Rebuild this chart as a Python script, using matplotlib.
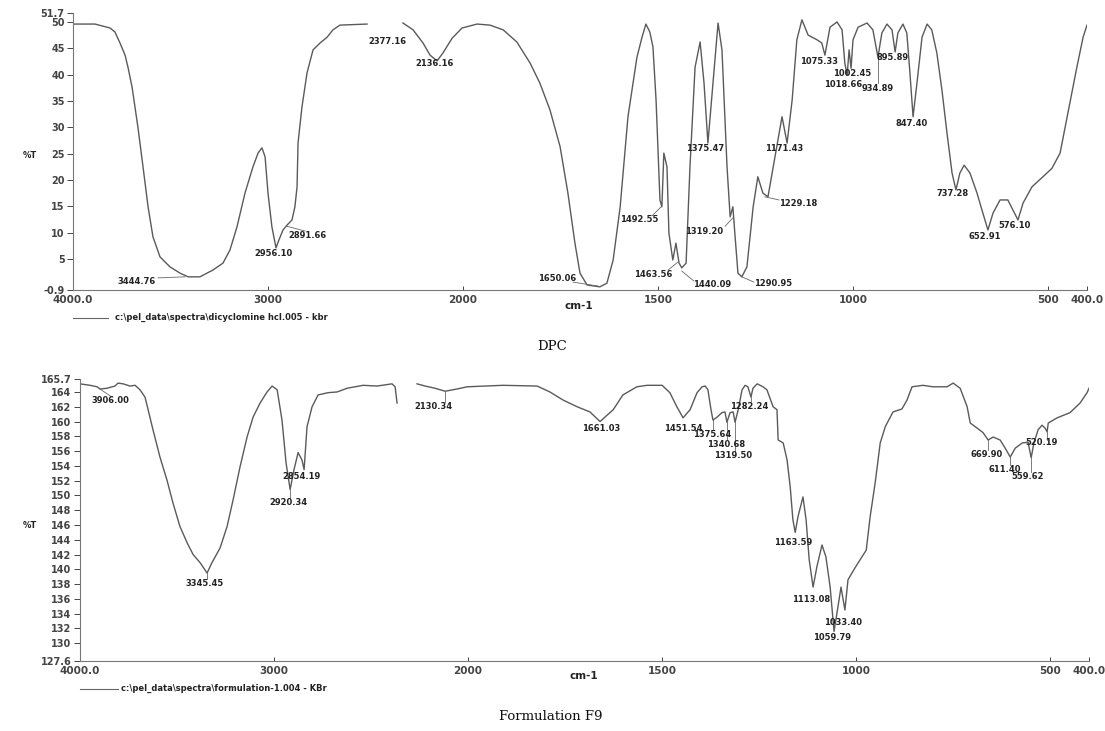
import numpy as np
import matplotlib
matplotlib.use('Agg')
import matplotlib.pyplot as plt

# ---------------- DPC spectrum (top) ----------------
dpc_wn_a = [4000, 3887, 3810, 3785, 3759, 3733, 3718, 3697, 3682, 3667,
            3641, 3615, 3590, 3554, 3503, 3451, 3410, 3349, 3282, 3231,
            3195, 3159, 3118, 3077, 3051, 3031, 3015, 3000, 2980, 2959,
            2944, 2923, 2903, 2877, 2862, 2851, 2846, 2826, 2800, 2769,
            2733, 2697, 2667, 2631, 2492]
dpc_t_a = [49.6, 49.6, 48.85, 48.1, 46, 43.7, 41.4, 37.6, 33.8, 30,
           22.5, 14.9, 9.2, 5.4, 3.5, 2.3, 1.6, 1.6, 2.9, 4.2,
           6.7, 11.1, 17.5, 22.5, 25.1, 26.1, 24.4, 17.5, 11.1, 7.1,
           8.6, 10.5, 11.4, 12.4, 14.9, 18.7, 27, 33.8, 40.3, 44.7,
           46, 47.1, 48.5, 49.4, 49.6]
dpc_wn_b = [2308, 2256, 2205, 2169, 2133, 2103, 2056, 2005, 1964, 1931,
            1897, 1862, 1828, 1803, 1777, 1751, 1731, 1713, 1700, 1682,
            1649, 1631, 1615, 1597, 1577, 1554, 1541, 1531, 1521, 1513,
            1505, 1495, 1490, 1485, 1477, 1472, 1462, 1454, 1446, 1439,
            1428, 1418, 1405, 1392, 1382, 1372, 1359, 1346, 1336, 1323,
            1315, 1308, 1303, 1295, 1285, 1272, 1256, 1244, 1231, 1218,
            1200, 1182, 1169, 1156, 1144, 1131, 1115, 1092, 1080, 1072,
            1059, 1041, 1028, 1021, 1015, 1010, 1005, 1000, 987, 964,
            949, 936, 926, 913, 900, 892, 885, 872, 862, 854,
            846, 836, 823, 810, 798, 785, 772, 759, 746, 736,
            726, 715, 700, 682, 667, 654, 641, 623, 603, 590,
            577, 564, 541, 513, 490, 469, 449, 426, 410, 400]
dpc_t_b = [49.8, 48.5, 46, 43.7, 42.6, 44.1, 46.9, 48.85, 49.6, 49.4,
           48.5, 46.2, 42.2, 38.4, 33.3, 26.3, 17.5, 8, 2.3, 0.05,
           -0.3, 0.4, 4.8, 14.9, 32, 43.3, 47.1, 49.6, 48.1, 45.3,
           35.2, 16.2, 14.9, 25.1, 22.5, 9.9, 4.8, 8, 4.2, 3.3,
           4.2, 22.5, 41.4, 46.2, 38.4, 27, 38.4, 49.8, 44.7, 22.5,
           13, 14.9, 9.9, 2.3, 1.6, 3.5, 14.9, 20.6, 17.5, 16.8,
           24.4, 32, 27, 35.2, 46.6, 50.4, 47.5, 46.6, 46, 43.7,
           49, 50, 48.5, 42.2, 39.9, 44.7, 41.2, 46.6, 49, 49.8,
           48.5, 43.3, 47.9, 49.6, 48.5, 44.3, 47.9, 49.6, 47.9, 40.3,
           32, 38.4, 47.1, 49.6, 48.5, 44.1, 37.1, 28.9, 21.3, 18.1,
           21.3, 22.8, 21.3, 17.5, 13.7, 10.5, 13.7, 16.2, 16.2, 14.3,
           12.4, 15.6, 18.7, 20.6, 22.2, 25.1, 32.7, 41.4, 47.1, 49.4]

# ---------------- Formulation F9 spectrum (bottom) ----------------
f9_wn_a = [4000, 3948, 3912, 3897, 3861, 3820, 3804, 3778, 3742, 3716,
           3691, 3665, 3649, 3624, 3588, 3552, 3521, 3485, 3448, 3417,
           3381, 3345, 3320, 3278, 3242, 3211, 3175, 3139, 3108, 3072,
           3036, 3010, 2984, 2959, 2938, 2917, 2897, 2876, 2856, 2845,
           2830, 2804, 2773, 2722, 2675, 2624, 2541, 2469, 2392, 2376,
           2366]
f9_t_a = [165.1, 164.9, 164.7, 164.4, 164.5, 164.8, 165.2, 165.1, 164.8, 164.9,
          164.3, 163.3, 161.6, 158.9, 155.2, 152.1, 149, 145.8, 143.6, 142,
          140.9, 139.5, 140.9, 142.9, 145.8, 149.4, 153.9, 157.9, 160.6, 162.5,
          164, 164.8, 164.3, 160.2, 154.4, 150.8, 153.5, 155.8, 154.8, 153.5,
          159.3, 162, 163.6, 163.9, 164, 164.5, 164.9, 164.8, 165.1, 164.7,
          162.5]
f9_wn_b = [2263, 2221, 2170, 2118, 2057, 2005, 1910, 1822, 1789, 1755,
           1719, 1686, 1660, 1626, 1601, 1565, 1539, 1500, 1480, 1462,
           1446, 1428, 1410, 1397, 1389, 1382, 1374, 1369, 1358, 1346,
           1338, 1333, 1325, 1317, 1312, 1304, 1294, 1286, 1279, 1271,
           1266, 1255, 1240, 1230, 1214, 1204, 1201, 1188, 1178, 1170,
           1163, 1157, 1150, 1137, 1129, 1121, 1111, 1101, 1088, 1078,
           1067, 1057, 1047, 1039, 1029, 1021, 1003, 985, 974, 964,
           951, 938, 925, 905, 882, 869, 856, 828, 802, 766,
           750, 732, 714, 706, 688, 673, 660, 647, 629, 616,
           603, 590, 572, 557, 549, 542, 531, 521, 513, 508,
           505, 482, 449, 423, 405, 400]
f9_t_b = [165.1, 164.8, 164.5, 164.1, 164.4, 164.7, 164.9, 164.8, 164, 162.9,
          162, 161.3, 160.0, 161.6, 163.6, 164.7, 164.9, 164.9, 163.9, 162,
          160.5, 161.6, 163.9, 164.7, 164.8, 164.3, 161.6, 160.2, 160.6, 161.2,
          161.3, 159.9, 161.2, 161.3, 159.9, 161.6, 164.3, 164.9, 164.7, 163.3,
          164.5, 165.1, 164.7, 164.3, 162, 161.6, 157.5, 157.1, 154.8, 151.2,
          146.7, 145, 147.1, 149.8, 146.7, 141.3, 137.6, 140.4, 143.3, 141.7,
          137.6, 131.6, 134.9, 137.6, 134.5, 138.6, 140.2, 141.7, 142.6, 147.1,
          151.7, 157.1, 159.3, 161.3, 161.7, 162.9, 164.7, 164.9, 164.7, 164.7,
          165.2, 164.5, 162, 159.8, 159.1, 158.5, 157.5, 157.9, 157.5, 156.4,
          155.2, 156.4, 157.1, 157.2, 155.1, 157.1, 158.9, 159.5, 159.1, 158.6,
          159.8, 160.5, 161.2, 162.5, 163.9, 164.5]

# ---------------- axis ticks ----------------
x_ticks = [4000, 3000, 2000, 1500, 1000, 500, 400]
x_labels = ['4000.0', '3000', '2000', '1500', '1000', '500', '400.0']
dpc_yticks = [-0.9, 5, 10, 15, 20, 25, 30, 35, 40, 45, 50, 51.7]
dpc_ylabels = ['-0.9', '5', '10', '15', '20', '25', '30', '35', '40', '45', '50', '51.7']
f9_yticks = [127.6, 130, 132, 134, 136, 138, 140, 142, 144, 146, 148, 150,
             152, 154, 156, 158, 160, 162, 164, 165.7]
f9_ylabels = ['127.6', '130', '132', '134', '136', '138', '140', '142', '144', '146',
              '148', '150', '152', '154', '156', '158', '160', '162', '164', '165.7']

# ---------------- peak labels: (text, wavenumber, %T) ----------------
dpc_peaks = [("3444.76", 3672, 0.8), ("2956.10", 2974, 6.1), ("2891.66", 2795, 9.5),
             ("2377.16", 2390, 46.2), ("2136.16", 2144, 42.2), ("1650.06", 1759, 1.2),
             ("1492.55", 1549, 12.4), ("1463.56", 1513, 2.1), ("1440.09", 1362, 0.05),
             ("1375.47", 1380, 25.9), ("1319.20", 1382, 10.3), ("1290.95", 1205, 0.24),
             ("1229.18", 1141, 15.6), ("1171.43", 1177, 25.9), ("1075.33", 1087, 42.4),
             ("1002.45", 1003, 40.3), ("1018.66", 1026, 38.2), ("934.89", 936, 37.3),
             ("895.89", 898, 43.3), ("847.40", 849, 30.8), ("737.28", 744, 17.5),
             ("652.91", 662, 9.2), ("576.10", 585, 11.3)]
dpc_leaders = [(3564, 1.4, 3426, 1.6), (2903, 11.2, 2810, 10.3), (1718, 0.6, 1654, -0.15),
               (1515, 13.2, 1492, 14.9), (1474, 2.9, 1449, 4.4), (1408, 0.8, 1439, 2.7),
               (1328, 11.2, 1308, 12.8), (1285, 1.6, 1254, 0.6), (1226, 16.8, 1190, 16.2),
               (936, 43.2, 936, 38.4)]
f9_peaks = [("3906.00", 3845, 162.9), ("3345.45", 3356, 138.1), ("2920.34", 2928, 149),
            ("2854.19", 2856, 152.6), ("2130.34", 2180, 162.1), ("1661.03", 1657, 159.1),
            ("1451.54", 1446, 159.1), ("1375.64", 1371, 158.3), ("1340.68", 1335, 156.9),
            ("1319.50", 1317, 155.4), ("1282.24", 1276, 162), ("1163.59", 1163, 143.7),
            ("1113.08", 1116, 135.9), ("1033.40", 1034, 132.8), ("1059.79", 1062, 130.8),
            ("669.90", 665, 155.5), ("611.40", 616, 153.5), ("559.62", 557, 152.5),
            ("520.19", 521, 157.1)]
f9_leaders = [(3897, 164.4, 3835, 163.3), (3345, 139.5, 3345, 138.7), (2917, 150.8, 2917, 149.7),
              (2118, 164.1, 2118, 162.6), (1369, 160.2, 1369, 158.9), (1333, 159.9, 1333, 157.5),
              (1312, 159.9, 1312, 156.0), (1271, 163.3, 1271, 162.8), (660, 157.5, 660, 156.2),
              (603, 155.2, 603, 154.1), (549, 155.1, 549, 153.2), (508, 158.6, 508, 157.5)]


def fwd(w):
    w = np.asarray(w, dtype=float)
    return np.where(w > 2000, 2000 + (w - 2000) / 2.0, w)


def inv(u):
    u = np.asarray(u, dtype=float)
    return np.where(u > 2000, 2000 + (u - 2000) * 2.0, u)


LINE = '#5a5a5a'
TXT = '#222222'
tick_font = dict(family='DejaVu Sans', weight='bold', size=7.5)
peak_font = dict(family='DejaVu Sans', weight='bold', size=6)

fig = plt.figure(figsize=(11.05, 7.31), dpi=100)


def make_axes(rect, segs, ylim, yt, yl, peaks, leaders):
    ax = fig.add_axes(rect)
    ax.set_xscale('function', functions=(fwd, inv))
    for wn, t in segs:
        ax.plot(wn, t, color=LINE, lw=1.0)
    ax.set_xlim(4000, 400)
    ax.set_ylim(*ylim)
    ax.set_xticks(x_ticks, x_labels)
    ax.set_yticks(yt, yl)
    ax.xaxis.set_minor_locator(matplotlib.ticker.NullLocator())
    for lab in ax.get_xticklabels():
        lab.set_fontfamily('DejaVu Sans')
        lab.set_fontweight('bold')
        lab.set_fontsize(7.5)
        lab.set_color(TXT)
    for lab in ax.get_yticklabels():
        lab.set_fontfamily('DejaVu Sans')
        lab.set_fontweight('bold')
        lab.set_fontsize(7)
        lab.set_color(TXT)
    ax.tick_params(axis='y', direction='out', length=4, width=0.7, pad=2, colors='#444444')
    ax.tick_params(axis='x', direction='in', length=3, width=0.7, pad=3.5, colors='#444444')
    for s in ['top', 'right']:
        ax.spines[s].set_visible(False)
    for s in ['left', 'bottom']:
        ax.spines[s].set_color('#777777')
        ax.spines[s].set_linewidth(0.8)
    for txt, w, v in peaks:
        ax.text(w, v, txt, ha='center', va='center', color=TXT, clip_on=False, **peak_font)
    for w1, v1, w2, v2 in leaders:
        ax.plot([w1, w2], [v1, v2], color='#666666', lw=0.6)
    return ax


ax1 = make_axes([73 / 1105, 1 - 290 / 731, (1087 - 73) / 1105, (290 - 13) / 731],
                [(dpc_wn_a, dpc_t_a), (dpc_wn_b, dpc_t_b)],
                (-0.9, 51.7), dpc_yticks, dpc_ylabels, dpc_peaks, dpc_leaders)
ax2 = make_axes([80 / 1105, 1 - 661 / 731, (1089 - 80) / 1105, (661 - 379.4) / 731],
                [(f9_wn_a, f9_t_a), (f9_wn_b, f9_t_b)],
                (127.6, 165.7), f9_yticks, f9_ylabels, f9_peaks, f9_leaders)

# axis titles and file legends
fig.text(30 / 1105, 1 - 155 / 731, '%T', ha='center', va='center', color=TXT, **peak_font)
fig.text(30 / 1105, 1 - 525 / 731, '%T', ha='center', va='center', color=TXT, **peak_font)
fig.text(579 / 1105, 1 - 306 / 731, 'cm-1', ha='center', va='center', color=TXT, **tick_font)
fig.text(584 / 1105, 1 - 676 / 731, 'cm-1', ha='center', va='center', color=TXT, **tick_font)

fig.add_artist(matplotlib.lines.Line2D([73 / 1105, 108 / 1105], [1 - 318 / 731] * 2,
                                       color='#666666', lw=0.8))
fig.text(115 / 1105, 1 - 317 / 731, r'c:\pel_data\spectra\dicyclomine hcl.005 - kbr',
         ha='left', va='center', color=TXT, **peak_font)
fig.add_artist(matplotlib.lines.Line2D([80 / 1105, 118 / 1105], [1 - 689 / 731] * 2,
                                       color='#666666', lw=0.8))
fig.text(121 / 1105, 1 - 688 / 731, r'c:\pel_data\spectra\formulation-1.004 - KBr',
         ha='left', va='center', color=TXT, **peak_font)

fig.text(552 / 1105, 1 - 347 / 731, 'DPC', ha='center', va='center',
         family='DejaVu Serif', size=9.5, color='#111111')
fig.text(551 / 1105, 1 - 716 / 731, 'Formulation F9', ha='center', va='center',
         family='DejaVu Serif', size=9.5, color='#111111')

fig.savefig('out.png', dpi=100)
